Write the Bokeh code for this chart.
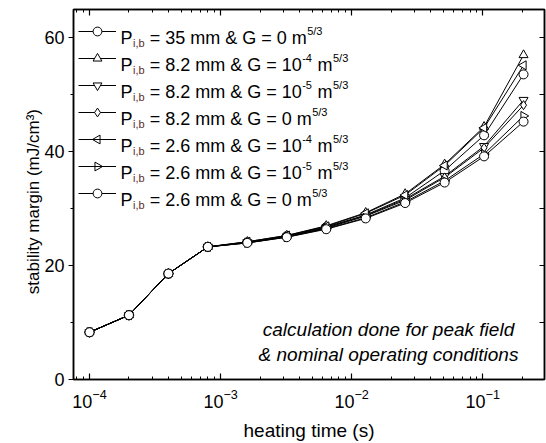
import math
from bokeh.plotting import figure
from bokeh.models import (LogAxis, LinearAxis, FixedTicker, Label, Legend, LegendItem,
                          PolyAnnotation)
from bokeh.core.properties import value
from bokeh.embed import file_html
from bokeh.resources import INLINE

# ---------------- data ----------------
heating_time = [1e-4, 2e-4, 4e-4, 8e-4, 1.6e-3, 3.2e-3, 6.4e-3, 1.28e-2, 2.56e-2, 5.12e-2, 0.1024, 0.2048]

margin_35_G0    = [8.3, 11.3, 18.6, 23.3, 24.1, 25.2, 26.8, 28.9, 31.9, 36.7, 42.9, 53.6]
margin_82_G1e4  = [8.3, 11.3, 18.6, 23.3, 24.2, 25.3, 27.0, 29.3, 32.6, 37.8, 44.4, 57.0]
margin_82_G1e5  = [8.3, 11.3, 18.6, 23.3, 24.1, 25.1, 26.7, 28.8, 31.7, 35.7, 41.0, 49.1]
margin_82_G0    = [8.3, 11.3, 18.6, 23.3, 24.0, 25.1, 26.6, 28.7, 31.5, 35.5, 40.7, 48.2]
margin_26_G1e4  = [8.3, 11.3, 18.6, 23.3, 24.2, 25.3, 26.9, 29.2, 32.4, 37.6, 44.2, 55.2]
margin_26_G1e5  = [8.3, 11.3, 18.6, 23.3, 24.0, 25.0, 26.5, 28.4, 31.2, 34.9, 39.6, 46.3]
margin_26_G0    = [8.3, 11.3, 18.6, 23.3, 24.0, 25.0, 26.4, 28.3, 31.0, 34.6, 39.2, 45.3]

series = [margin_35_G0, margin_82_G1e4, margin_82_G1e5, margin_82_G0,
          margin_26_G1e4, margin_26_G1e5, margin_26_G0]
p_ib_values = ["35", "8.2", "8.2", "8.2", "2.6", "2.6", "2.6"]
g_base = ["0", "10", "10", "0", "10", "10", "0"]
g_exp = ["", "-4", "-5", "", "-4", "-5", ""]
markers = ["circle", "triangle", "inverted_triangle", "diamond", "triangle", "triangle", "circle"]
marker_angles = [0, 0, 0, 0, math.pi / 2, -math.pi / 2, 0]
# legend triangles that must point left (-1) / right (+1); 0 = use normal legend marker
legend_side_triangle = [0, 0, 0, 0, -1, 1, 0]

x_major = [1e-4, 1e-3, 1e-2, 1e-1]
y_major = [0, 20, 40, 60]
y_minor = [10, 30, 50]

x_label = "heating time (s)"
y_label = "stability margin (mJ/cm\u00b3)"
note_lines = ["calculation done for peak field", "& nominal operating conditions"]

FONT = "Liberation Sans"

# ---------------- figure ----------------
p = figure(width=546, height=443, x_axis_type="log",
           x_range=(7.55e-5, 0.296), y_range=(0, 65),
           output_backend="svg", toolbar_location=None,
           min_border_left=73, min_border_right=2, min_border_top=9, min_border_bottom=64)
p.xgrid.visible = False
p.ygrid.visible = False
p.outline_line_color = "black"
p.outline_line_width = 1.5
p.background_fill_color = "white"

x_minor = [k * 10.0 ** e for e in range(-5, 0) for k in range(2, 10)]
xt = FixedTicker(ticks=x_major, minor_ticks=x_minor)
yt = FixedTicker(ticks=y_major, minor_ticks=y_minor)

xa = p.xaxis[0]
xa.ticker = xt
xa.major_label_text_font = FONT
xa.major_label_text_font_size = "18px"
xa.major_label_text_line_height = 1.0
xa.major_label_text_color = "black"
xa.major_label_standoff = 9
xa.major_tick_in = 6
xa.major_tick_out = 0
xa.minor_tick_in = 3
xa.minor_tick_out = 0
xa.axis_line_width = 1.5
xa.major_tick_line_width = 1.2
xa.axis_label = x_label
xa.axis_label_text_font = FONT
xa.axis_label_text_font_size = "19px"
xa.axis_label_text_line_height = 1.0
xa.axis_label_text_font_style = "normal"
xa.axis_label_text_color = "black"
xa.axis_label_standoff = 9

ya = p.yaxis[0]
ya.ticker = yt
ya.major_tick_in = 0
ya.major_tick_out = 5
ya.minor_tick_in = 0
ya.minor_tick_out = 3
ya.axis_line_width = 1.5
ya.major_tick_line_width = 1.2
ya.major_label_standoff = 4
ya.major_label_text_font = FONT
ya.major_label_text_font_size = "18px"
ya.major_label_text_color = "black"
ya.axis_label = y_label + "\u00a0\u00a0\u00a0"
ya.axis_label_text_font = FONT
ya.axis_label_text_font_size = "17px"
ya.axis_label_text_font_style = "normal"
ya.axis_label_text_color = "black"
ya.axis_label_standoff = -2

top = LogAxis(ticker=xt, major_label_text_font_size="2px", major_label_text_alpha=0,
              major_label_standoff=0,
              major_tick_in=6, major_tick_out=0, minor_tick_in=3, minor_tick_out=0,
              axis_line_width=1.5, major_tick_line_width=1.2)
p.add_layout(top, "above")
right = LinearAxis(ticker=yt, major_label_text_font_size="2px", major_label_text_alpha=0,
                   major_label_standoff=0,
                   major_tick_in=5, major_tick_out=0, minor_tick_in=5, minor_tick_out=0,
                   axis_line_width=1.5, major_tick_line_width=1.2)
p.add_layout(right, "right")

# ---------------- series ----------------
line_rs = []
for vals in series:
    line_rs.append(p.line(heating_time, vals, line_color="black", line_width=1))
scat_rs = []
for vals, mk, ang in zip(series, markers, marker_angles):
    scat_rs.append(p.scatter(heating_time, vals, marker=mk, angle=ang, size=9,
                             fill_color="white", line_color="black", line_width=1))

GLYPH_W, GLYPH_H, SPACING = 38, 22, 5
LEG_X, LEG_Y = 5, 175
items = []
for lr, sr, side in zip(line_rs, scat_rs, legend_side_triangle):
    rends = [lr] if side else [lr, sr]
    items.append(LegendItem(label=value(" "), renderers=rends))
legend = Legend(items=items, location=(LEG_X, LEG_Y), padding=0, margin=0, spacing=SPACING,
                glyph_height=GLYPH_H, glyph_width=GLYPH_W, label_text_font_size="2px",
                label_text_alpha=0, label_height=2,
                label_standoff=0, background_fill_alpha=0, border_line_alpha=0)
p.add_layout(legend)

# left / right pointing triangles for the legend (the legend does not rotate markers)
n_items = len(series)
leg_h = n_items * GLYPH_H + (n_items - 1) * SPACING
r = 0.4 * min(GLYPH_W, GLYPH_H) / 2
for i, side in enumerate(legend_side_triangle):
    if not side:
        continue
    cx = LEG_X + GLYPH_W / 2
    cy = LEG_Y + leg_h - (GLYPH_H / 2 + i * (GLYPH_H + SPACING))
    hgt = r * math.sqrt(3)
    apex = hgt * 2 / 3
    back = hgt / 3
    xs = [cx + side * apex, cx - side * back, cx - side * back]
    ys = [cy, cy + r, cy - r]
    p.add_layout(PolyAnnotation(xs=xs, ys=ys, xs_units="screen", ys_units="screen",
                                fill_color="white", fill_alpha=1.0,
                                line_color="black", line_alpha=1.0, line_width=1))

# ---------------- legend texts ----------------
W = {' ': 278, '=': 584, '.': 278, 'm': 833, '&': 667, 'G': 778, 'P': 667,
     '-': 333, '/': 278, 'i': 222, ',': 278, 'b': 556}


def tw(s, size):
    return sum(W.get(c, 556) for c in s) * size / 1000.0


def lab(x, y, text, size, color="black", style="normal", align="left"):
    p.add_layout(Label(x=x, y=y, x_units="screen", y_units="screen", text=text,
                       text_font=FONT, text_font_size=f"{size}px", text_color=color,
                       text_font_style=style, text_align=align, text_baseline="alphabetic"))


FS = 18
SS = 11
for i in range(n_items):
    cy = LEG_Y + leg_h - (GLYPH_H / 2 + i * (GLYPH_H + SPACING))
    base = cy - 6.5
    x = 47
    lab(x, base, "P", FS)
    xs = x + tw("P", FS) + 0.5
    lab(xs, base - 4.5, "i,b", SS, color="#5b2b2b")
    main = "= " + p_ib_values[i] + " mm & G = " + g_base[i]
    xm = xs + tw("i,b", SS) + tw(" ", FS)
    lab(xm, base, main, FS)
    x2 = xm + tw(main, FS)
    if g_exp[i]:
        lab(x2 + 0.5, base + 7, g_exp[i], SS)
        x2 += tw(g_exp[i], SS) + 1
    xmm = x2 + tw(" ", FS)
    lab(xmm, base, "m", FS)
    lab(xmm + tw("m", FS) + 0.5, base + 7, "5/3", SS)

# ---------------- note ----------------
lab(315, 50, note_lines[0], 19, style="italic", align="center")
lab(315, 25, note_lines[1], 19, style="italic", align="center")

open("out.html", "w").write(file_html(p, INLINE))
